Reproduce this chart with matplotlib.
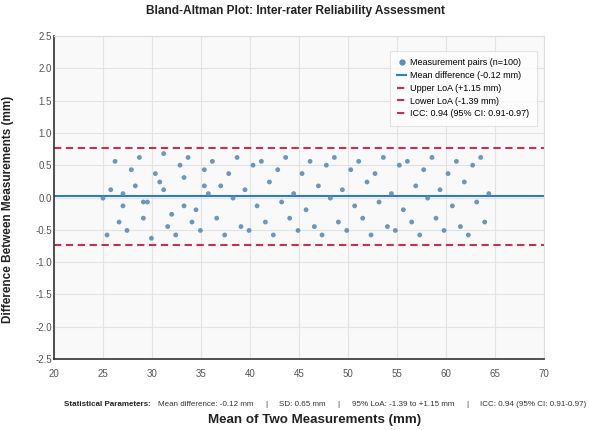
import numpy as np
import matplotlib.pyplot as plt
from matplotlib.lines import Line2D

plt.rcParams['font.family'] = ['Liberation Sans', 'DejaVu Sans']

# ---- data ----
mean_vals = [25.00, 25.41, 25.79, 26.23, 26.64, 27.04, 27.04, 27.45, 27.89, 28.30,
             28.71, 29.12, 29.12, 29.53, 29.94, 30.34, 30.79, 31.19, 31.19, 31.60,
             32.01, 32.42, 32.86, 33.27, 33.27, 33.68, 34.08, 34.49, 34.94, 35.34,
             35.34, 35.75, 36.16, 36.60, 37.01, 37.42, 37.83, 38.27, 38.68, 39.08,
             39.49, 39.90, 40.31, 40.72, 41.16, 41.57, 41.98, 42.38, 42.83, 43.23,
             43.64, 44.05, 44.46, 44.90, 45.31, 45.72, 46.13, 46.57, 46.98, 47.35,
             47.79, 48.20, 48.61, 49.02, 49.43, 49.87, 50.28, 50.68, 51.09, 51.50,
             51.94, 52.35, 52.76, 53.17, 53.61, 54.02, 54.43, 54.83, 55.24, 55.65,
             56.06, 56.50, 56.91, 57.32, 57.72, 58.13, 58.57, 58.98, 59.39, 59.80,
             60.21, 60.65, 61.06, 61.47, 61.87, 62.28, 62.72, 63.13, 63.54, 63.95,
             64.37]
diff_vals = [-0.01, -0.58, 0.12, 0.56, -0.38, 0.06, -0.13, -0.51, 0.43, 0.18,
             0.62, -0.32, -0.07, -0.07, -0.63, 0.37, 0.24, 0.12, 0.68, -0.45,
             -0.26, -0.58, 0.50, 0.31, -0.13, 0.62, -0.38, -0.19, -0.51, 0.43,
             0.18, 0.06, 0.56, -0.32, 0.18, -0.58, 0.37, -0.01, 0.62, -0.45,
             0.12, -0.51, 0.50, -0.13, 0.56, -0.38, 0.24, -0.58, 0.43, -0.07,
             0.62, -0.32, 0.06, -0.51, 0.37, -0.19, 0.56, -0.45, 0.18, -0.58,
             0.50, -0.01, 0.62, -0.38, 0.12, -0.51, 0.43, -0.13, 0.56, -0.32,
             0.24, -0.58, 0.37, -0.07, 0.62, -0.45, 0.06, -0.51, 0.50, -0.19,
             0.56, -0.38, 0.18, -0.58, 0.43, -0.01, 0.62, -0.32, 0.12, -0.51,
             0.37, -0.13, 0.56, -0.45, 0.24, -0.58, 0.50, -0.07, 0.62, -0.38,
             0.06]

mean_line = 0.02
upper_line = 0.77
lower_line = -0.74

x_ticks = [20, 25, 30, 35, 40, 45, 50, 55, 60, 65, 70]
y_ticks = [-2.5, -2.0, -1.5, -1.0, -0.5, 0.0, 0.5, 1.0, 1.5, 2.0, 2.5]

legend_labels = ["Measurement pairs (n=100)", "Mean difference (-0.12 mm)",
                 "Upper LoA (+1.15 mm)", "Lower LoA (-1.39 mm)",
                 "ICC: 0.94 (95% CI: 0.91-0.97)"]

stats_parts = ["Mean difference: -0.12 mm", "SD: 0.65 mm",
               "95% LoA: -1.39 to +1.15 mm", "ICC: 0.94 (95% CI: 0.91-0.97)"]

# ---- colours ----
pt_color = '#5b8cb8'
mean_color = '#2f7cbf'
loa_color = '#c8304f'

fig = plt.figure(figsize=(5.89, 4.30), dpi=100)
ax = fig.add_axes([54 / 589, 1 - 359 / 430, 490 / 589, 323 / 430])
ax.set_facecolor('#f9f9f9')

ax.scatter(mean_vals, diff_vals, s=12, color=pt_color, alpha=0.9,
           edgecolors='none', zorder=3)
ax.axhline(mean_line, color=mean_color, lw=1.5, zorder=2)
for yv in (upper_line, lower_line):
    ax.axhline(yv, color=loa_color, lw=1.5, dashes=(3.5, 2.2), zorder=2)

ax.set_xlim(20, 70)
ax.set_ylim(-2.5, 2.5)
ax.set_xticks(x_ticks)
ax.set_yticks(y_ticks)
ax.set_yticklabels([f"{v:.1f}" for v in y_ticks])
ax.grid(True, color='#e3e3e3', lw=0.8, zorder=0)
ax.set_axisbelow(True)

ax.tick_params(axis='both', length=0, labelsize=7, colors='#555555')
ax.tick_params(axis='y', pad=1.5)
ax.tick_params(axis='x', pad=7)
for side in ('left', 'bottom'):
    ax.spines[side].set_color('#333333')
    ax.spines[side].set_linewidth(1.2)
for side in ('top', 'right'):
    ax.spines[side].set_color('#dddddd')
    ax.spines[side].set_linewidth(0.8)

handles = [
    Line2D([], [], ls='none', marker='o', ms=3.5, color=pt_color),
    Line2D([], [], color=mean_color, lw=1.5),
    Line2D([], [], color=loa_color, lw=1.5, dashes=(3.5, 2.2)),
    Line2D([], [], color=loa_color, lw=1.5, dashes=(3.5, 2.2)),
    Line2D([], [], color=loa_color, lw=1.5, dashes=(3.5, 2.2)),
]
leg = ax.legend(handles, legend_labels, loc='upper right',
                bbox_to_anchor=(0.985, 0.955), fontsize=6.5, frameon=True,
                fancybox=False, handlelength=1.0, handletextpad=0.4,
                labelspacing=0.42, borderpad=0.85, borderaxespad=0)
leg.get_frame().set_edgecolor('#dddddd')
leg.get_frame().set_linewidth(0.8)
leg.get_frame().set_facecolor('white')

fig.text(296 / 589, 1 - 11 / 430,
         "Bland-Altman Plot: Inter-rater Reliability Assessment",
         ha='center', va='center', fontsize=8.6, fontweight='bold', color='#222222')
fig.text(8 / 589, 1 - 209 / 430, "Difference Between Measurements (mm)",
         rotation=90, ha='center', va='center', fontsize=8.5,
         fontweight='bold', color='#222222')
fig.text(315 / 589, 1 - 420 / 430, "Mean of Two Measurements (mm)",
         ha='center', va='center', fontsize=9.6, fontweight='bold', color='#222222')

# statistics line: bold lead-in, then parts separated by bars
stats_y = 1 - 405 / 430
t1 = fig.text(64 / 589, stats_y, "Statistical Parameters:", ha='left', va='center',
              fontsize=5.8, fontweight='bold', color='#222222')
fig.canvas.draw()
x_px = t1.get_window_extent().x1 + 7
sep_gap = 13
for i, part in enumerate(stats_parts):
    t = fig.text(x_px / 589, stats_y, part, ha='left', va='center',
                 fontsize=5.8, color='#333333')
    fig.canvas.draw()
    x_px = t.get_window_extent().x1
    if i < len(stats_parts) - 1:
        s = fig.text((x_px + sep_gap) / 589, stats_y, "|", ha='center',
                     va='center', fontsize=5.8, color='#333333')
        x_px = x_px + 2 * sep_gap

fig.savefig('out.png', dpi=100)
